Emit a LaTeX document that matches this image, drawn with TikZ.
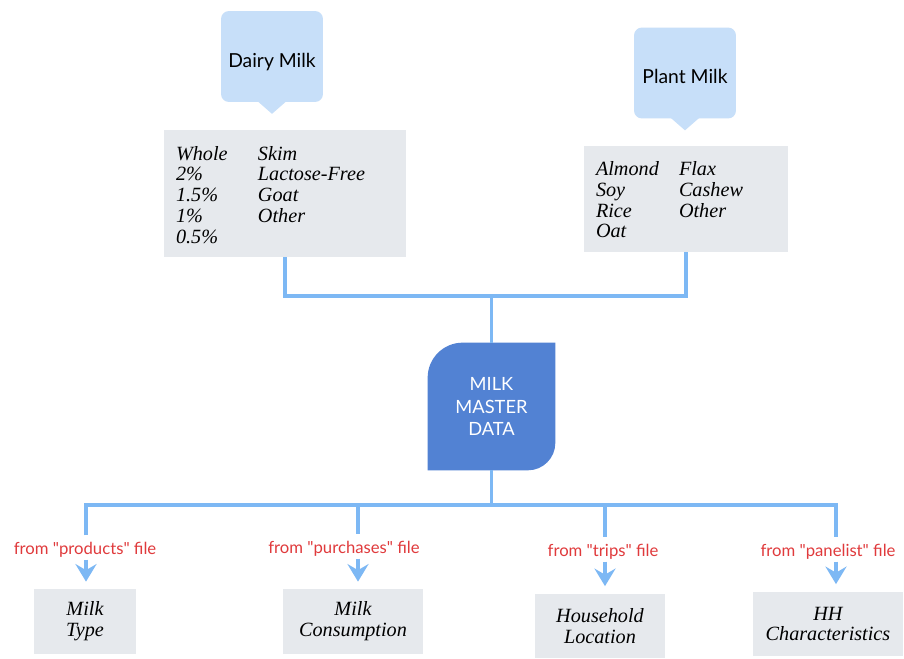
\documentclass[tikz,border=0pt]{standalone}
\usepackage{fontspec}
\setmainfont{Liberation Serif}
\newfontfamily\latofont{Lato}
\usetikzlibrary{arrows.meta}
\definecolor{calloutblue}{HTML}{C7DFF9}
\definecolor{boxgray}{HTML}{E6E9ED}
\definecolor{linkblue}{HTML}{7DB8F4}
\definecolor{masterblue}{HTML}{5282D3}
\definecolor{notered}{HTML}{E03A3C}

\begin{document}
\begin{tikzpicture}[x=0.02cm, y=-0.02cm,
    callout/.style={fill=calloutblue, rounded corners=0.16cm, minimum width=2.04cm, minimum height=1.82cm, text height=14.5pt, text depth=2pt, font=\latofont\fontsize{11}{13}\selectfont},
    listbox/.style={fill=boxgray, inner xsep=0.24cm, inner ysep=0pt, align=left, font=\fontsize{11.5}{11.8}\selectfont\itshape},
    leafbox/.style={fill=boxgray, align=center, minimum height=1.3cm, inner sep=0pt, font=\fontsize{11.5}{11.8}\selectfont\itshape},
    mastertext/.style={text=white, align=center, font=\latofont\fontsize{10.4}{12.8}\selectfont},
    source/.style={text=notered, inner xsep=0pt, inner ysep=1pt, font=\latofont\fontsize{9.5}{11}\selectfont},
    link/.style={draw=linkblue, line width=2.2pt},
    feed/.style={link, -{Stealth[length=10pt,width=12pt,inset=3.5pt]}, shorten >=4pt}]

        \fill[white] (0,0) rectangle (904,659);
        \useasboundingbox (0,0) rectangle (904,659);

        % milk kinds
        \node[callout] (dairy) at (272,56.5) {Dairy Milk};
        \node[callout] (plant) at (685,73) {Plant Milk};
        \fill[calloutblue] ([xshift=-0.32cm,yshift=0.05cm]dairy.south) -- ([yshift=-0.23cm]dairy.south) -- ([xshift=0.32cm,yshift=0.05cm]dairy.south) -- cycle;
        \fill[calloutblue] ([xshift=-0.32cm,yshift=0.05cm]plant.south) -- ([yshift=-0.23cm]plant.south) -- ([xshift=0.32cm,yshift=0.05cm]plant.south) -- cycle;

        \node[listbox, text width=4.36cm, minimum height=2.54cm] (dairylist) at (285,193.5) {\raisebox{-0.08cm}[\height][\depth]{\begin{tabular}{@{}p{1.64cm}@{}l@{}}
            Whole & Skim\\
            2\% & Lactose-Free\\
            1.5\% & Goat\\
            1\% & Other\\
            0.5\% &
        \end{tabular}}};
        \node[listbox, text width=3.60cm, minimum height=2.12cm] (plantlist) at (686,199) {\raisebox{-0.07cm}[\height][\depth]{\begin{tabular}{@{}p{1.66cm}@{}l@{}}
            Almond & Flax\\
            Soy & Cashew\\
            Rice & Other\\
            Oat &
        \end{tabular}}};

        % master data
        \node[minimum width=2.54cm, minimum height=2.54cm] (master) at (491.5,406.5) {};
        \fill[masterblue] (master.south west) -- ([yshift=-0.7cm]master.north west) arc[start angle=180, end angle=90, radius=0.7cm]
            -- (master.north east) -- ([yshift=0.55cm]master.south east) arc[start angle=0, end angle=-90, radius=0.55cm] -- cycle;
        \node[mastertext] (mastertitle) at (master) {MILK\\MASTER\\DATA};

        \coordinate (topbus) at (491.5,296);
        \coordinate (lowbus) at (491.5,505);
        \draw[link] (dairylist.south) |- (topbus) -| (plantlist.south);
        \draw[link] (topbus) -- (master.north);
        \draw[link] (master.south) -- (lowbus);

        % sources
        \node[source] (fromproducts) at (85,550) {from "products" file};
        \node[source] (frompurchases) at (344,549) {from "purchases" file};
        \node[source] (fromtrips) at (603,552) {from "trips" file};
        \node[source] (frompanelist) at (828,552) {from "panelist" file};

        \node[leafbox, minimum width=2.04cm] (milktype) at (85,621.5) {Milk\\Type};
        \node[leafbox, minimum width=2.80cm] (consume) at (353,621.5) {Milk\\Consumption};
        \node[leafbox, minimum width=2.60cm] (location) at (600,626) {Household\\Location};
        \node[leafbox, minimum width=3.00cm] (traits) at (828,624) {HH\\Characteristics};

        \coordinate (drop1) at (86,505);
        \coordinate (drop2) at (358,505);
        \coordinate (drop3) at (605,505);
        \coordinate (drop4) at (836,505);
        \draw[link, shorten <=3pt, shorten >=3pt] (drop1 |- fromproducts.north) -- (drop1) -- (drop4) -- (drop4 |- frompanelist.north);
        \draw[link, shorten >=3pt] (drop2) -- (drop2 |- frompurchases.north);
        \draw[link, shorten >=3pt] (drop3) -- (drop3 |- fromtrips.north);

        \draw[feed] (drop1 |- fromproducts.south) -- (drop1 |- milktype.north);
        \draw[feed] (drop2 |- frompurchases.south) -- (drop2 |- consume.north);
        \draw[feed] (drop3 |- fromtrips.south) -- (drop3 |- location.north);
        \draw[feed] (drop4 |- frompanelist.south) -- (drop4 |- traits.north);

\end{tikzpicture}
\end{document}
